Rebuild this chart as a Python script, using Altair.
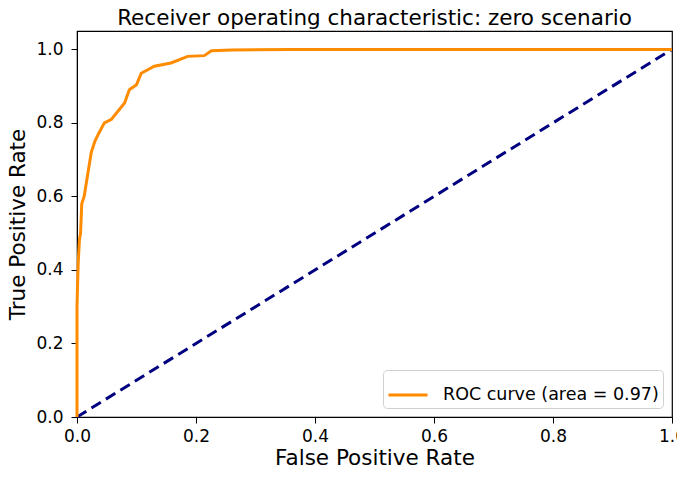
import altair as alt
import pandas as pd

fpr = [0.0, 0.0, 0.002, 0.004, 0.006, 0.008, 0.012, 0.016, 0.02, 0.024, 0.03, 0.036,
       0.046, 0.058, 0.064, 0.08, 0.088, 0.1, 0.108, 0.13, 0.158, 0.186, 0.214, 0.226,
       0.26, 0.36, 1.0]
tpr = [0.0, 0.3, 0.42, 0.48, 0.5, 0.58, 0.6, 0.64, 0.68, 0.72, 0.75, 0.77,
       0.8, 0.81, 0.822, 0.854, 0.89, 0.904, 0.935, 0.954, 0.963, 0.981, 0.983, 0.996,
       0.998, 1.0, 1.0]
diag_x = [0.0, 1.0]
diag_y = [0.0, 1.0]
label = "ROC curve (area = 0.97)"
ticks = [0.0, 0.2, 0.4, 0.6, 0.8, 1.0]

roc = pd.DataFrame({"fpr": fpr, "tpr": tpr, "i": range(len(fpr)), "series": label})
diag = pd.DataFrame({"fpr": diag_x, "tpr": diag_y})

FONT = "DejaVu Sans"

x = alt.X("fpr:Q", title="False Positive Rate",
          scale=alt.Scale(domain=[0, 1], nice=False, zero=False),
          axis=alt.Axis(values=ticks, format=".1f", labelPadding=5, titlePadding=3))
y = alt.Y("tpr:Q", title="True Positive Rate",
          scale=alt.Scale(domain=[0, 1.05], nice=False, zero=False),
          axis=alt.Axis(values=ticks, format=".1f", labelPadding=8, titlePadding=6))

roc_line = alt.Chart(roc).mark_line(strokeWidth=3).encode(
    x=x, y=y, order=alt.Order("i:Q"),
    color=alt.Color("series:N", title=None,
                    scale=alt.Scale(domain=[label], range=["#ff8c00"]),
                    legend=alt.Legend(orient="bottom-right", offset=9,
                                      symbolType="stroke", symbolSize=1521,
                                      symbolStrokeWidth=3, labelFontSize=17.5,
                                      labelFont=FONT, labelColor="black",
                                      labelLimit=400,
                                      labelOffset=14, padding=4,
                                      fillColor="white", strokeColor="#d0d0d0",
                                      cornerRadius=4))
)

diag_line = alt.Chart(diag).mark_line(strokeWidth=3, strokeDash=[11, 6], color="#000080").encode(
    x=x, y=y
)

chart = alt.layer(diag_line, roc_line).properties(
    width=595, height=386,
    title=alt.TitleParams("Receiver operating characteristic: zero scenario",
                          fontSize=21.5, font=FONT, fontWeight="normal", color="black",
                          offset=2),
    autosize=alt.AutoSizeParams(type="none"),
    padding={"left": 69, "top": 23, "right": 5, "bottom": 52},
).configure_view(
    stroke="black", strokeWidth=1.2
).configure_axis(
    grid=False, domainColor="black", tickColor="black", tickSize=6,
    labelFont=FONT, labelFontSize=17, labelColor="black",
    titleFont=FONT, titleFontSize=21.5, titleFontWeight="normal", titleColor="black",
    labelFlush=False, labelOverlap=False
)

chart.save("out.html", embed_options={"renderer": "svg", "actions": False})
